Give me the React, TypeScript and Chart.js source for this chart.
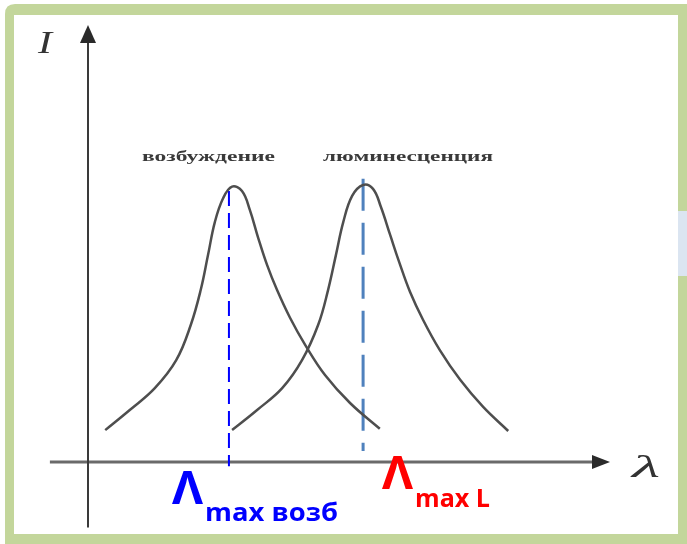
import React, { useEffect, useRef } from "react";
import { Chart, registerables } from "chart.js";

Chart.register(...registerables);

// Schematic spectra (arbitrary units: λ 0..100, I 0..100)
const excitationLambda = [3.3, 8.0, 12.8, 16.9, 19.7, 21.6, 23.0, 24.3, 25.9, 27.6, 29.5, 31.0, 32.6, 34.3, 36.2, 38.7, 41.6, 45.4, 50.2, 55.9];
const excitationIntensity = [7.3, 11.9, 16.9, 23.3, 31.4, 39.4, 47.4, 54.9, 60.4, 63.0, 62.0, 57.7, 51.3, 45.1, 39.4, 33.0, 26.8, 19.9, 13.5, 7.6];
const luminescenceLambda = [27.6, 32.4, 37.2, 41.0, 44.1, 46.0, 47.5, 48.9, 50.6, 52.7, 54.6, 56.1, 57.9, 59.6, 61.7, 64.2, 67.4, 71.3, 75.7, 80.5];
const luminescenceIntensity = [7.3, 11.9, 16.9, 23.3, 31.4, 39.4, 47.4, 54.9, 60.9, 63.4, 62.5, 58.4, 51.9, 45.8, 38.9, 32.5, 25.6, 18.8, 12.6, 7.1];

// peak markers: [lambda, top, bottom]
const excitationPeakLine = [27.0, 62.0, -1.0];
const luminescencePeakLine = [52.7, 64.8, 2.5];

// axes extents
const lambdaAxisRange = [-7.3, 100];
const intensityAxisRange = [-15, 100];

const curveLabels = ["возбуждение", "люминесценция"];

const W = 687;
const H = 544;

function fitText(
  ctx: CanvasRenderingContext2D,
  text: string,
  left: number,
  baseline: number,
  width: number,
  font: string,
  color: string
) {
  ctx.save();
  ctx.font = font;
  ctx.fillStyle = color;
  ctx.textAlign = "left";
  ctx.textBaseline = "alphabetic";
  const m = ctx.measureText(text).width;
  ctx.translate(left, baseline);
  ctx.scale(width / m, 1);
  ctx.fillText(text, 0, 0);
  ctx.restore();
}

const framePlugin = {
  id: "frame",
  beforeDraw(chart: any) {
    const ctx = chart.ctx as CanvasRenderingContext2D;
    ctx.save();
    ctx.fillStyle = "#ffffff";
    ctx.fillRect(0, 0, W, H);
    ctx.fillStyle = "#c3d69b";
    ctx.beginPath();
    const r = 10;
    ctx.moveTo(5 + r, 4);
    ctx.lineTo(W, 4);
    ctx.lineTo(W, H);
    ctx.lineTo(5, H);
    ctx.lineTo(5, 4 + r);
    ctx.quadraticCurveTo(5, 4, 5 + r, 4);
    ctx.closePath();
    ctx.fill();
    ctx.fillStyle = "#dbe5f1";
    ctx.fillRect(678, 211, 9, 65);
    ctx.fillStyle = "#ffffff";
    ctx.fillRect(14, 15, 664, 519);
    ctx.restore();
  },
  beforeDatasetsDraw(chart: any) {
    const ctx = chart.ctx as CanvasRenderingContext2D;
    const xs = chart.scales.x;
    const ys = chart.scales.y;
    const x0 = xs.getPixelForValue(0);
    const y0 = ys.getPixelForValue(0);
    const xEnd = xs.getPixelForValue(lambdaAxisRange[1]);
    const xStart = xs.getPixelForValue(lambdaAxisRange[0]);
    const yTop = ys.getPixelForValue(intensityAxisRange[1]);
    const yBot = ys.getPixelForValue(intensityAxisRange[0]);
    ctx.save();
    // horizontal axis
    ctx.strokeStyle = "#6a6a6a";
    ctx.lineWidth = 3;
    ctx.beginPath();
    ctx.moveTo(xStart, y0);
    ctx.lineTo(xEnd - 14, y0);
    ctx.stroke();
    ctx.fillStyle = "#2a2a2a";
    ctx.beginPath();
    ctx.moveTo(xEnd, y0);
    ctx.lineTo(xEnd - 18, y0 - 7);
    ctx.lineTo(xEnd - 18, y0 + 7);
    ctx.closePath();
    ctx.fill();
    // vertical axis
    ctx.strokeStyle = "#3a3a3a";
    ctx.lineWidth = 2;
    ctx.beginPath();
    ctx.moveTo(x0, yBot);
    ctx.lineTo(x0, yTop + 14);
    ctx.stroke();
    ctx.beginPath();
    ctx.moveTo(x0, yTop);
    ctx.lineTo(x0 - 8, yTop + 18);
    ctx.lineTo(x0 + 8, yTop + 18);
    ctx.closePath();
    ctx.fill();
    ctx.restore();
  },
  afterDraw(chart: any) {
    const ctx = chart.ctx as CanvasRenderingContext2D;
    // axis names
    fitText(ctx, "I", 38, 53, 14, "italic 32px 'Liberation Serif'", "#333333");
    fitText(ctx, "λ", 632, 477, 28, "italic 32px 'Liberation Serif'", "#333333");
    // curve names
    fitText(ctx, curveLabels[0], 142, 161, 133, "bold 15px 'Liberation Serif'", "#3a3a3a");
    fitText(ctx, curveLabels[1], 323, 161, 170, "bold 15px 'Liberation Serif'", "#3a3a3a");
    // peak labels
    fitText(ctx, "Λ", 172, 504, 31, "bold 46px 'Open Sans'", "#0000ff");
    fitText(ctx, "max возб", 205, 521, 133, "bold 25px 'Open Sans'", "#0000ff");
    fitText(ctx, "Λ", 382, 489, 31, "bold 46px 'Open Sans'", "#ff0000");
    fitText(ctx, "max L", 415, 507, 75, "bold 25px 'Open Sans'", "#ff0000");
  },
};

export default function App() {
  const ref = useRef<HTMLCanvasElement | null>(null);
  useEffect(() => {
    document.body.style.margin = "0";
    if (!ref.current) return;
    const toPts = (xs: number[], ys: number[]) => xs.map((x, i) => ({ x, y: ys[i] }));
    const chart = new Chart(ref.current, {
      type: "line",
      data: {
        datasets: [
          {
            label: curveLabels[0],
            data: toPts(excitationLambda, excitationIntensity),
            borderColor: "#4e4e4e",
            borderWidth: 2.5,
            pointRadius: 0,
            tension: 0.4,
            clip: false as any,
          },
          {
            label: curveLabels[1],
            data: toPts(luminescenceLambda, luminescenceIntensity),
            borderColor: "#4e4e4e",
            borderWidth: 2.5,
            pointRadius: 0,
            tension: 0.4,
            clip: false as any,
          },
          {
            label: "peak1",
            data: [
              { x: excitationPeakLine[0], y: excitationPeakLine[1] },
              { x: excitationPeakLine[0], y: excitationPeakLine[2] },
            ],
            borderColor: "#0000ff",
            borderWidth: 2,
            borderDash: [15, 7],
            pointRadius: 0,
            clip: false as any,
          },
          {
            label: "peak2",
            data: [
              { x: luminescencePeakLine[0], y: luminescencePeakLine[1] },
              { x: luminescencePeakLine[0], y: luminescencePeakLine[2] },
            ],
            borderColor: "#4f81bd",
            borderWidth: 3,
            borderDash: [32, 12],
            pointRadius: 0,
            clip: false as any,
          },
        ],
      },
      options: {
        responsive: false,
        animation: false,
        layout: { padding: { left: 88, right: 77, top: 25, bottom: 82 } },
        plugins: { legend: { display: false }, tooltip: { enabled: false } },
        scales: {
          x: { type: "linear", min: 0, max: 100, display: false },
          y: { type: "linear", min: 0, max: 100, display: false },
        },
      },
      plugins: [framePlugin],
    });
    return () => chart.destroy();
  }, []);
  return (
    <div style={{ position: "fixed", left: 0, top: 0, width: W, height: H }}>
      <canvas ref={ref} width={W} height={H} style={{ width: W, height: H, display: "block" }} />
    </div>
  );
}
